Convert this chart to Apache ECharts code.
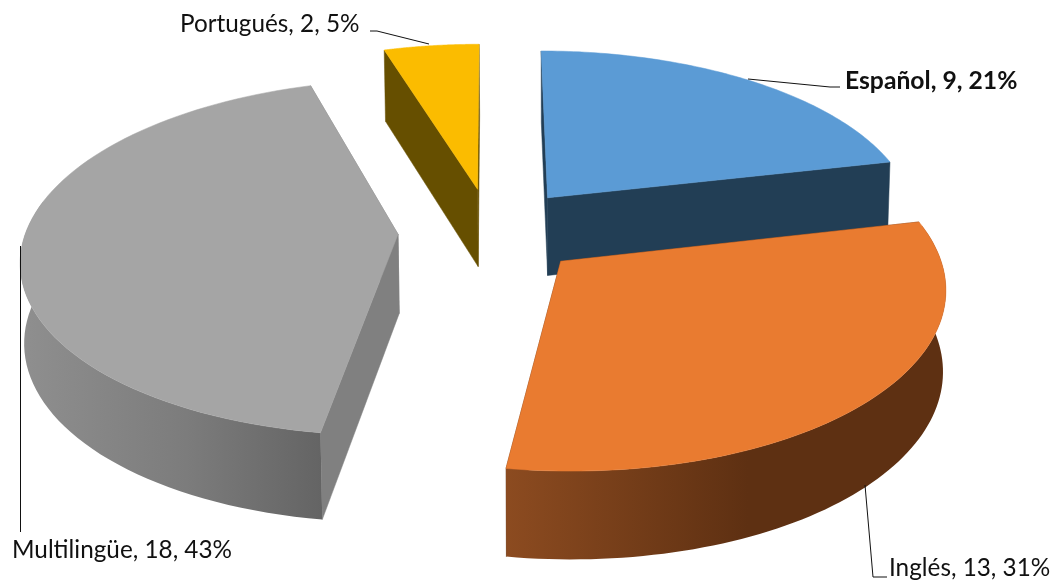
<!DOCTYPE html>
<html><head><meta charset="utf-8">
<style>html,body{margin:0;padding:0;background:#fff}#c{width:1060px;height:585px}</style>
<script src="https://cdn.jsdelivr.net/npm/echarts@6/dist/echarts.min.js"></script>
</head><body><div id="c"></div>
<script>
const categories = ['Español', 'Inglés', 'Multilingüe', 'Portugués'];
const values = [9, 13, 18, 2];
const topColors = ['#5B9BD5', '#E97B30', '#A5A5A5', '#FBBC00'];
const faceColors = ['#223E55', '#5E3012', '#808080', '#664F00'];
const wallStops = [null, ['#8C4B20', '#5E3012', '#5E3012'], ['#8F8F8F', '#7C7C7C', '#646464'], null];
const boldLabel = [true, false, false, false];
const labelPos = [[845, 81], [889, 568], [12, 550], [180, 24]];
const leaders = [
  [[748, 79], [830, 87], [840, 87]],
  [[865, 485], [873, 577], [887, 577]],
  [[20.5, 246], [20.5, 532]],
  [[429, 44], [377, 31], [370, 31]]
];

const view = {cx: 491, cy: 231, R: 372, Rk: 174, p: 0.13, depth: 79, depthP: 0.09, explode: 0.25, shrink: 0.0075, shift: 0.5};
const total = values.reduce((a, b) => a + b, 0);
const starts = [];
values.reduce((acc, v, i) => { starts[i] = acc; return acc + v; }, 0);

function project(X, Y, bottom) {
  const d = 1 - view.p * Y;
  let x = view.R * X / d, y = view.Rk * Y / d;
  if (bottom) { y += view.depth / (1 - view.depthP * Y); x = x * (1 - view.shrink) + view.shift; }
  return [view.cx + x, view.cy + y];
}
function renderSlice(params, api) {
  const i = params.dataIndex, v = api.value(0);
  const a0 = starts[i] / total * 2 * Math.PI, a1 = (starts[i] + v) / total * 2 * Math.PI;
  const m = (a0 + a1) / 2;
  const ox = view.explode * Math.sin(m), oy = -view.explode * Math.cos(m);
  const rim = (a, b) => project(ox + Math.sin(a), oy - Math.cos(a), b);
  const apex = b => project(ox, oy, b);
  const n = 80, arc = [];
  for (let k = 0; k <= n; k++) arc.push(a0 + (a1 - a0) * k / n);
  const kids = [];
  const poly = (points, fill) => kids.push({type: 'polygon', shape: {points},
    style: {fill, stroke: fill.colorStops ? fill.colorStops[0].color : fill, lineWidth: fill.colorStops ? 0 : 0.5}});
  poly([apex(false), apex(true), rim(a0, true), rim(a0, false)], faceColors[i]);
  poly([apex(false), apex(true), rim(a1, true), rim(a1, false)], faceColors[i]);
  const front = arc.filter(a => Math.cos(a) < 0.2);
  if (wallStops[i] && front.length > 1) {
    const s = wallStops[i];
    poly(front.map(a => rim(a, false)).concat(front.slice().reverse().map(a => rim(a, true))),
      new echarts.graphic.LinearGradient(0, 0, 1, 0, [
        {offset: 0, color: s[0]}, {offset: 0.55, color: s[1]}, {offset: 1, color: s[2]}]));
  }
  poly([apex(false)].concat(arc.map(a => rim(a, false))), topColors[i]);
  kids.push({type: 'polyline', shape: {points: leaders[i]}, style: {fill: null, stroke: '#111', lineWidth: 1}});
  kids.push({type: 'text', style: {
    text: categories[i] + ', ' + v + ', ' + Math.round(v / total * 100) + '%',
    x: labelPos[i][0], y: labelPos[i][1], fill: '#111', verticalAlign: 'middle',
    font: boldLabel[i] ? 'bold 24.7px Lato, sans-serif' : '24.3px Lato, sans-serif'}});
  return {type: 'group', children: kids};
}
const chart = echarts.init(document.getElementById('c'), null, {renderer: 'canvas'});
chart.setOption({
  animation: false,
  backgroundColor: '#fff',
  series: [{type: 'custom', coordinateSystem: 'none', renderItem: renderSlice,
    data: values.map((v, i) => ({name: categories[i], value: [v]}))}]
});
</script></body></html>
